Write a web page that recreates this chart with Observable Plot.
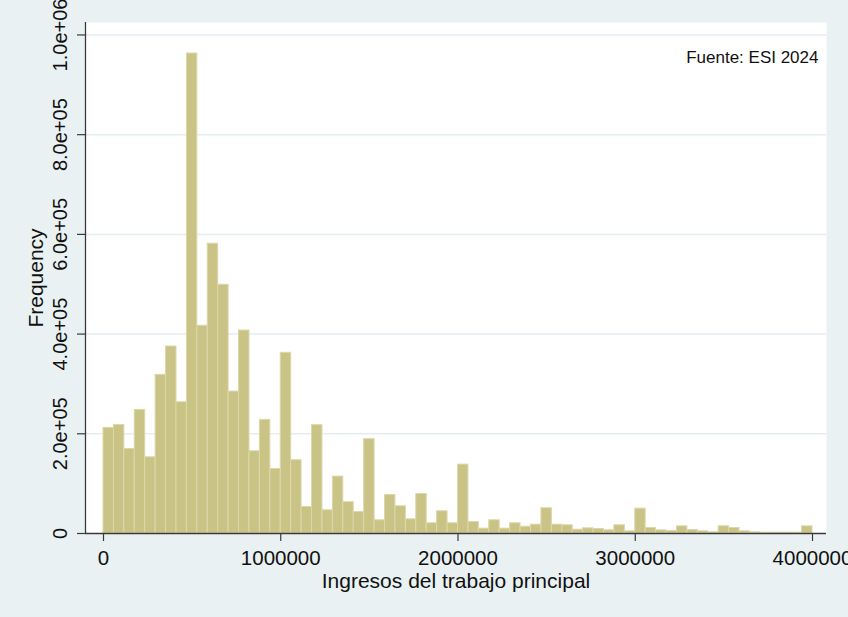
<!DOCTYPE html>
<html>
<head>
<meta charset="utf-8">
<script src="https://cdn.jsdelivr.net/npm/d3@7"></script>
<script src="https://cdn.jsdelivr.net/npm/@observablehq/plot@0.6"></script>
<style>
  html, body { margin: 0; padding: 0; background: #eaf1f3; overflow: hidden; }
  #chart svg { display: block; overflow: visible; }
</style>
</head>
<body>
<div id="chart"></div>
<script>
// Histogram of main-job income: 68 equal-width bins from 0 to 4,000,000
const binStart = 0;
const binEnd = 4000000;
const frequencies = [
  211800, 217800, 169600, 247900, 152900, 318200, 375100, 263300, 962800, 416600,
  581300, 498900, 284700, 407200, 164900, 227900, 129500, 362400, 147000, 53200,
  217300, 46600, 114100, 62700, 43200, 189200, 26500, 77300, 54600, 28500,
  79300, 20500, 44600, 20500, 138200, 23100, 9600, 26500, 9600, 20500,
  13600, 17700, 50600, 17700, 16500, 7600, 10400, 9000, 6400, 16500,
  4400, 49800, 11000, 6400, 5000, 14400, 7000, 4400, 2400, 14400,
  11000, 4400, 2400, 1600, 1600, 1600, 1600, 14400
];
const xTicks = [0, 1000000, 2000000, 3000000, 4000000];
const yTicks = [0, 200000, 400000, 600000, 800000, 1000000];
const yTickLabels = ["0", "2.0e+05", "4.0e+05", "6.0e+05", "8.0e+05", "1.0e+06"];
const xTitle = "Ingresos del trabajo principal";
const yTitle = "Frequency";
const note = "Fuente: ESI 2024";

const binWidth = (binEnd - binStart) / frequencies.length;
const bins = frequencies.map((f, i) => ({
  x1: binStart + i * binWidth,
  x2: binStart + (i + 1) * binWidth,
  freq: f
}));
const yTable = yTicks.map((v, i) => ({value: v, label: yTickLabels[i]}));

const xDomain = [-101551, 4078984];
const yDomain = [0, 1025000];
const ink = "#111";
const axisInk = "#3a3a3a";

const chart = Plot.plot({
  width: 848,
  height: 617,
  marginLeft: 85,
  marginRight: 22,
  marginTop: 22,
  marginBottom: 84,
  style: {background: "#eaf1f3", fontFamily: "Liberation Sans, Arial, sans-serif", color: ink},
  x: {domain: xDomain},
  y: {domain: yDomain},
  marks: [
    Plot.frame({fill: "white", stroke: null}),
    Plot.gridY(yTicks.filter(d => d > 0), {stroke: "#e4edf0", strokeOpacity: 1, strokeWidth: 1.5}),
    Plot.rectY(bins, {x1: "x1", x2: "x2", y: "freq", fill: "#cac386", stroke: "#dcd7a8", strokeWidth: 1}),
    Plot.ruleX([xDomain[0]], {stroke: axisInk, strokeWidth: 1.3}),
    Plot.ruleY([yDomain[0]], {stroke: axisInk, strokeWidth: 1.3}),
    Plot.axisY({ticks: yTicks, tickSize: 8, tickFormat: () => "", stroke: axisInk, strokeWidth: 1.2}),
    Plot.text(yTable, {y: "value", text: "label", frameAnchor: "left", dx: -25, rotate: -90,
      textAnchor: "middle", lineAnchor: "middle", fontSize: 20, fill: ink}),
    Plot.axisX({ticks: xTicks, tickSize: 8, tickPadding: 9, fontSize: 20.5, tickFormat: d => d3.format("d")(d),
      stroke: axisInk, strokeWidth: 1.2, fill: ink, label: null}),
    Plot.text([xTitle], {frameAnchor: "bottom", dy: 48, lineAnchor: "middle", fontSize: 21, fill: ink}),
    Plot.text([yTitle], {frameAnchor: "left", dx: -49, rotate: -90, textAnchor: "middle", lineAnchor: "middle",
      fontSize: 21, fill: ink}),
    Plot.text([note], {frameAnchor: "top-right", dx: -8, dy: 35, textAnchor: "end", lineAnchor: "middle",
      fontSize: 17, fill: ink})
  ]
});
document.getElementById("chart").appendChild(chart);
</script>
</body>
</html>
